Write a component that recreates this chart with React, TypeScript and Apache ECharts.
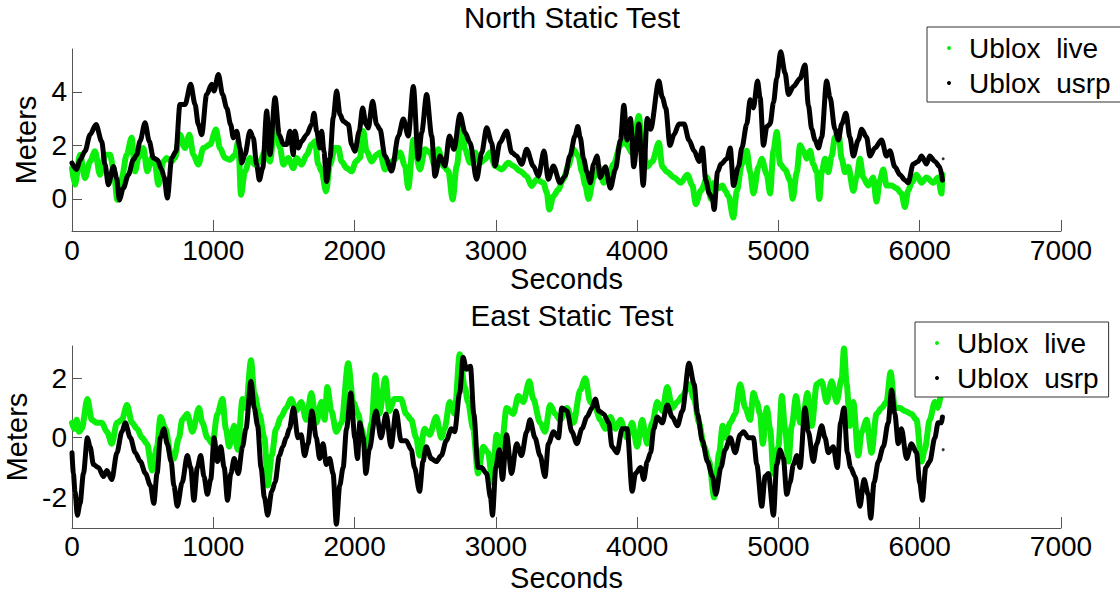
import React, { useEffect, useRef } from "react";
import * as echarts from "echarts";

// ---------- data (seconds, meters) ----------
const northLive: number[][] = [
  [0,1.15],[21,0.53],[57,1.65],[92,0.78],[128,1.4],[163,1.78],[198,0.9],[234,1.65],[269,1.65],[293,1.15],[321,-0.04],[352,0.78],[387,1.65],[422,2.28],[446,1.03],[470,1.53],[505,1.9],[533,1.03],[564,1.53],[588,1.28],[611,0.53],[647,1.4],[670,1.53],[706,1.4],[729,1.53],[764,2.4],[800,1.9],[831,2.4],[859,1.65],[894,1.28],[930,1.9],[977,2.03],[1019,2.59],[1047,1.9],[1083,1.53],[1118,1.46],[1154,1.65],[1177,2.15],[1196,0.15],[1224,1.03],[1260,1.53],[1295,1.28],[1331,1.4],[1366,1.78],[1401,1.4],[1437,2.9],[1472,1.9],[1496,1.28],[1531,1.53],[1566,1.15],[1590,1.53],[1625,1.28],[1661,1.65],[1696,2.03],[1720,2.15],[1743,1.28],[1767,1.03],[1798,0.28],[1826,1.28],[1861,1.9],[1885,1.9],[1908,1.4],[1944,1.15],[1979,1.03],[2010,1.4],[2038,1.53],[2062,2.53],[2085,1.78],[2121,1.4],[2156,1.65],[2180,1.73],[2215,1.1],[2251,1.35],[2286,1.48],[2322,1.73],[2357,1.23],[2380,0.41],[2416,2.2],[2463,1.1],[2498,1.85],[2534,1.73],[2569,1.23],[2593,1.85],[2628,1.23],[2664,1.04],[2694,-0.02],[2723,1.23],[2758,2.73],[2782,1.85],[2817,1.35],[2852,1.73],[2888,1.35],[2923,1.48],[2958,1.73],[2994,1.23],[3041,1.1],[3088,1.35],[3124,1.23],[3171,1.04],[3218,0.85],[3253,0.48],[3289,0.73],[3336,0.6],[3360,0.25],[3378,-0.4],[3407,0.1],[3442,0.35],[3477,0.73],[3513,1.23],[3548,1.85],[3584,1.6],[3610,1.0],[3633,0.5],[3656,0.0],[3692,0.8],[3728,1.2],[3763,0.6],[3799,0.9],[3834,1.3],[3882,2.0],[3906,2.5],[3929,2.0],[3965,1.7],[3988,2.6],[4012,3.1],[4036,2.0],[4071,1.2],[4107,1.4],[4154,2.1],[4178,1.2],[4213,1.0],[4261,0.8],[4308,0.6],[4356,0.9],[4391,0.5],[4415,-0.2],[4450,0.3],[4497,0.8],[4521,0.0],[4545,0.6],[4581,0.4],[4605,0.5],[4623,0.3],[4647,0.1],[4680,-0.7],[4706,0.3],[4741,1.3],[4776,1.8],[4800,1.0],[4823,0.2],[4859,1.2],[4882,1.5],[4918,0.9],[4941,0.2],[4965,1.8],[4988,2.5],[5012,1.3],[5047,1.1],[5082,0.7],[5101,0.0],[5130,1.0],[5153,2.0],[5177,1.8],[5200,1.5],[5224,1.8],[5247,1.3],[5271,1.0],[5290,0.0],[5306,1.0],[5330,1.5],[5353,1.0],[5377,1.6],[5400,2.3],[5424,2.5],[5448,1.5],[5471,1.0],[5495,1.2],[5530,0.3],[5553,0.8],[5577,1.5],[5600,0.8],[5636,0.5],[5671,0.8],[5694,-0.1],[5718,0.7],[5742,1.1],[5765,0.5],[5801,0.5],[5836,0.4],[5871,0.2],[5895,-0.3],[5918,0.3],[5942,0.6],[5977,0.9],[6013,0.6],[6048,0.8],[6095,0.6],[6130,0.8],[6154,0.2],[6161,0.9]
];

const northUsrp: number[][] = [
  [0,1.34],[33,1.1],[57,1.46],[92,1.78],[128,2.4],[170,2.78],[210,2.15],[234,1.28],[257,0.53],[293,1.21],[316,0.78],[335,-0.04],[363,0.4],[399,0.9],[434,1.46],[458,1.65],[481,2.15],[517,2.84],[547,2.15],[576,1.53],[604,1.46],[635,1.09],[651,0.84],[675,0.03],[706,1.53],[736,1.78],[764,3.53],[800,3.53],[840,4.28],[871,3.53],[894,2.78],[918,2.4],[953,3.9],[989,4.28],[1005,4.03],[1036,4.65],[1066,3.9],[1095,3.4],[1123,2.78],[1142,2.28],[1166,2.53],[1189,1.9],[1201,1.34],[1224,1.65],[1260,2.53],[1283,2.28],[1307,1.28],[1326,0.71],[1350,1.15],[1378,3.28],[1401,1.65],[1437,3.78],[1467,2.4],[1496,2.03],[1519,2.03],[1543,2.53],[1566,1.65],[1578,2.53],[1602,1.9],[1625,2.15],[1661,2.4],[1696,2.78],[1713,3.2],[1732,2.53],[1755,1.9],[1767,2.53],[1783,1.78],[1802,0.65],[1826,1.53],[1849,3.03],[1873,4.03],[1897,3.15],[1920,2.9],[1956,2.78],[1979,2.03],[2003,1.78],[2033,2.53],[2057,3.4],[2081,2.78],[2097,2.65],[2128,3.65],[2156,2.78],[2180,2.6],[2215,1.6],[2263,1.04],[2310,2.35],[2345,2.98],[2380,2.35],[2416,4.2],[2451,1.48],[2475,2.48],[2510,3.9],[2546,2.35],[2569,0.85],[2605,1.6],[2640,1.23],[2671,2.35],[2704,1.85],[2746,3.16],[2782,2.48],[2817,2.1],[2864,0.73],[2900,1.73],[2935,2.66],[2970,2.1],[2994,1.23],[3029,2.1],[3076,2.54],[3112,1.73],[3147,1.6],[3183,1.29],[3218,1.85],[3265,1.23],[3301,0.85],[3341,1.79],[3371,0.73],[3407,1.23],[3454,0.6],[3489,0.85],[3524,1.6],[3560,2.35],[3580,2.7],[3597,2.3],[3621,1.5],[3645,1.0],[3668,0.6],[3692,1.3],[3716,1.6],[3739,0.8],[3775,1.2],[3811,0.4],[3846,1.1],[3882,2.2],[3906,3.5],[3929,2.2],[3953,3.0],[3976,1.2],[4012,2.8],[4043,0.5],[4071,3.0],[4095,2.6],[4154,4.4],[4178,3.8],[4202,3.4],[4232,2.0],[4261,2.4],[4296,2.8],[4332,2.8],[4367,2.2],[4403,1.8],[4438,1.4],[4462,1.9],[4486,0.7],[4510,0.2],[4533,0.0],[4545,-0.4],[4569,1.0],[4593,1.3],[4635,1.5],[4659,1.9],[4682,0.5],[4717,1.2],[4741,1.9],[4776,2.8],[4800,3.7],[4823,3.4],[4852,4.4],[4870,3.8],[4894,2.0],[4918,2.7],[4941,2.8],[4965,3.6],[4988,4.5],[5016,5.5],[5047,4.7],[5071,3.9],[5106,4.2],[5153,4.5],[5188,5.0],[5212,3.5],[5236,2.6],[5259,2.2],[5283,1.9],[5306,2.3],[5341,4.4],[5365,3.8],[5400,2.6],[5424,2.2],[5448,2.8],[5478,3.2],[5506,2.3],[5530,1.6],[5565,2.2],[5589,2.6],[5624,2.3],[5648,1.6],[5683,1.9],[5730,2.2],[5765,1.6],[5789,1.8],[5824,1.2],[5860,0.9],[5895,0.7],[5918,0.6],[5954,1.3],[5989,1.4],[6013,1.6],[6048,1.3],[6071,1.6],[6107,1.4],[6142,1.2],[6161,0.7]
];
const northUsrpStray: number[][] = [[6166,1.5]];

const eastLive: number[][] = [
  [0,0.5],[15,0.3],[33,0.6],[50,0.2],[69,0.3],[109,1.3],[140,0.6],[176,0.5],[211,0.5],[247,0.2],[282,-0.2],[318,0.5],[353,0.6],[389,1.1],[425,0.5],[460,0.3],[496,0.0],[531,-0.2],[567,-1.1],[602,-0.3],[626,0.7],[662,0.3],[697,-0.5],[721,-0.7],[757,0.0],[780,0.6],[816,0.8],[852,0.2],[899,1.0],[923,0.5],[958,0.0],[994,-0.2],[1029,0.8],[1065,1.3],[1089,0.3],[1112,-0.3],[1148,0.4],[1172,-0.4],[1207,1.3],[1231,1.0],[1267,2.6],[1290,1.5],[1326,0.8],[1362,0.0],[1385,-1.6],[1414,-0.6],[1444,0.3],[1480,0.7],[1516,1.0],[1551,1.3],[1587,0.9],[1622,1.2],[1658,0.6],[1694,1.5],[1729,0.5],[1765,1.2],[1788,0.6],[1807,1.7],[1836,0.9],[1871,0.2],[1907,0.5],[1955,2.5],[1990,1.2],[2026,0.8],[2049,0.3],[2085,-0.5],[2121,0.5],[2147,2.1],[2175,0.8],[2218,2.0],[2246,0.9],[2282,1.3],[2329,1.3],[2365,0.8],[2401,0.6],[2436,0.0],[2460,-0.6],[2495,0.3],[2531,0.1],[2578,0.7],[2614,0.0],[2637,0.3],[2673,1.2],[2708,0.8],[2744,2.8],[2780,1.7],[2803,1.2],[2839,0.3],[2874,-1.2],[2910,-0.3],[2945,-0.5],[2976,-1.5],[3005,0.1],[3040,-0.3],[3076,1.0],[3123,0.8],[3159,1.4],[3194,1.2],[3237,1.9],[3265,1.3],[3313,0.5],[3348,0.2],[3384,1.1],[3420,0.8],[3455,0.6],[3503,1.0],[3550,0.5],[3597,1.6],[3633,2.0],[3668,1.2],[3704,1.0],[3739,0.6],[3775,0.3],[3811,0.7],[3846,0.3],[3882,0.6],[3929,0.0],[3965,0.5],[4000,-0.3],[4036,0.6],[4071,-0.2],[4107,0.5],[4142,1.2],[4178,0.9],[4213,1.7],[4249,1.0],[4285,1.2],[4320,1.4],[4367,1.8],[4403,1.3],[4438,0.5],[4474,-0.3],[4510,-0.8],[4545,-2.0],[4581,-0.5],[4605,0.4],[4623,0.0],[4659,0.5],[4694,0.8],[4729,1.8],[4765,1.0],[4800,0.6],[4823,1.5],[4847,1.2],[4870,0.8],[4889,-0.2],[4918,1.0],[4941,0.3],[4965,-1.2],[5000,-0.3],[5024,1.4],[5047,0.3],[5071,-0.8],[5094,0.4],[5125,1.4],[5153,0.5],[5177,0.8],[5205,1.5],[5236,0.4],[5271,1.8],[5306,1.9],[5341,1.2],[5377,1.9],[5412,1.2],[5448,2.0],[5464,3.0],[5483,1.8],[5506,0.4],[5530,1.2],[5565,-0.6],[5589,0.2],[5624,0.6],[5659,-0.5],[5694,0.8],[5730,1.0],[5765,1.2],[5794,2.2],[5824,1.0],[5860,1.0],[5895,0.9],[5942,0.8],[5977,0.6],[6013,-0.8],[6036,-0.4],[6071,0.6],[6107,1.2],[6130,1.0],[6147,1.4]
];

const eastUsrp: number[][] = [
  [0,-0.5],[10,-1.2],[21,-1.8],[38,-2.6],[57,-2.2],[81,-1.2],[109,0.0],[128,-0.3],[152,-0.9],[187,-1.0],[223,-1.3],[247,-1.1],[282,-1.4],[318,-0.5],[353,0.2],[377,0.5],[413,0.0],[448,-0.5],[484,-0.8],[520,-1.2],[555,-1.6],[579,-2.2],[602,-1.2],[626,0.0],[650,0.3],[674,-0.2],[702,-0.8],[721,-1.6],[745,-2.3],[780,-1.5],[816,-0.6],[840,-1.0],[863,-2.1],[887,-1.0],[911,-0.6],[934,-1.3],[958,-1.9],[982,-1.4],[1006,0.0],[1029,-0.8],[1053,-0.3],[1077,-1.0],[1101,-2.1],[1124,-1.2],[1148,-0.7],[1177,-1.2],[1207,-0.3],[1231,0.3],[1267,1.9],[1290,1.0],[1314,0.4],[1338,-1.0],[1362,-2.0],[1385,-2.6],[1414,-1.8],[1437,-1.5],[1468,-0.6],[1492,-0.3],[1516,0.0],[1539,0.3],[1568,1.0],[1599,0.0],[1622,0.1],[1646,-0.6],[1670,-0.2],[1698,0.9],[1729,0.0],[1753,-0.7],[1777,-0.2],[1800,-0.9],[1824,-0.7],[1848,-1.2],[1871,-2.9],[1895,-1.6],[1919,-1.0],[1943,0.3],[1973,1.5],[2002,0.0],[2021,-0.7],[2037,0.5],[2061,0.0],[2080,-1.2],[2104,-0.4],[2152,0.9],[2187,0.0],[2223,0.8],[2258,-0.3],[2294,0.9],[2329,-0.1],[2365,-0.1],[2401,-0.4],[2424,-1.0],[2460,-1.8],[2484,-0.8],[2507,-0.3],[2543,-0.7],[2578,-0.8],[2614,-0.6],[2649,-0.1],[2685,0.3],[2708,0.2],[2744,1.5],[2768,2.7],[2792,2.3],[2820,2.4],[2844,0.8],[2874,-1.0],[2898,-1.0],[2934,-1.2],[2962,-2.0],[2976,-2.6],[3000,-1.0],[3024,-0.4],[3047,-1.4],[3076,0.1],[3111,-1.2],[3147,-0.2],[3182,-0.6],[3218,0.2],[3242,0.6],[3277,0.0],[3313,-0.6],[3348,-1.3],[3372,-0.2],[3408,0.2],[3443,0.0],[3467,1.0],[3503,0.9],[3538,0.2],[3574,-0.2],[3609,0.3],[3645,0.7],[3680,1.0],[3704,1.3],[3728,0.9],[3763,0.8],[3799,0.5],[3822,-0.3],[3858,-0.5],[3894,0.3],[3929,0.3],[3965,-1.8],[3988,-1.2],[4024,-1.0],[4047,-1.4],[4071,-0.8],[4095,-0.5],[4118,0.3],[4142,0.7],[4178,0.5],[4213,1.1],[4249,0.7],[4285,0.4],[4320,0.9],[4367,2.5],[4403,1.8],[4427,0.8],[4462,-0.1],[4498,-0.8],[4533,-1.3],[4557,-1.9],[4593,-1.0],[4623,-0.4],[4659,0.0],[4694,-0.5],[4729,0.1],[4753,0.2],[4788,0.0],[4823,0.0],[4847,-0.9],[4882,-2.3],[4906,-1.3],[4929,-1.2],[4965,-2.6],[4988,-0.9],[5012,-0.4],[5035,-0.7],[5059,-1.9],[5082,-1.5],[5106,-0.9],[5130,-0.6],[5153,-1.0],[5188,1.0],[5212,0.2],[5247,-0.8],[5271,-0.2],[5306,0.4],[5330,0.0],[5353,-0.5],[5388,-0.3],[5417,-1.0],[5440,0.5],[5464,1.0],[5488,-0.5],[5511,-1.0],[5542,-1.3],[5577,-2.3],[5606,-1.4],[5636,-1.9],[5653,-2.7],[5677,-1.5],[5707,-0.8],[5742,-0.3],[5777,0.5],[5801,1.6],[5824,0.8],[5848,-0.2],[5871,0.3],[5907,-0.7],[5942,-0.2],[5977,-0.5],[6000,-1.5],[6019,-2.1],[6043,-1.0],[6071,-0.8],[6107,0.0],[6130,0.5],[6154,0.5],[6161,0.7]
];
const eastUsrpStray: number[][] = [[6166,-0.4]];

const xTicks = [0, 7000, 1000]; // min, max, interval (seconds)
const northYTicks = [0, 2, 4];
const eastYTicks = [-2, 0, 2];
const titles = ["North Static Test", "East Static Test"];
const seriesNames = ["Ublox  live", "Ublox  usrp"];

const FONT = "'Liberation Sans', Arial, Helvetica, sans-serif";
const GREEN = "#0af00a";
const BLACK = "#000000";
const AXIS = "#555555";

function xAxisFor(grid: number, nameGap: number, margin: number) {
  return {
    type: "value",
    gridIndex: grid,
    min: xTicks[0],
    max: xTicks[1],
    interval: xTicks[2],
    name: "Seconds",
    nameLocation: "middle",
    nameGap,
    nameTextStyle: { fontSize: 29, color: "#000", fontFamily: FONT, lineHeight: 29 },
    axisLine: { show: true, onZero: false, lineStyle: { color: AXIS, width: 1 } },
    axisTick: { show: true, inside: true, length: 11, lineStyle: { color: AXIS, width: 1 } },
    axisLabel: {
      fontSize: 28, color: "#000", fontFamily: FONT, margin, lineHeight: 28,
      formatter: (v: number) => String(v),
    },
    splitLine: { show: false },
  };
}

function yAxisFor(grid: number, min: number, max: number, ticks: number[], nameGap: number) {
  return {
    type: "value",
    gridIndex: grid,
    min,
    max,
    name: "Meters",
    nameLocation: "middle",
    nameGap,
    nameTextStyle: { fontSize: 29, color: "#000", fontFamily: FONT, lineHeight: 29 },
    axisLine: { show: true, onZero: false, lineStyle: { color: AXIS, width: 1 } },
    axisTick: { show: true, inside: true, length: 10, customValues: ticks, lineStyle: { color: AXIS, width: 1 } },
    axisLabel: {
      fontSize: 28, color: "#000", fontFamily: FONT, margin: 5, customValues: ticks,
      formatter: (v: number) => String(v),
    },
    splitLine: { show: false },
  };
}

function legendAt(left: number, top: number) {
  return {
    orient: "vertical",
    left,
    top,
    padding: [7, 10, 5, 20],
    itemGap: 7,
    itemWidth: 4,
    itemHeight: 4,
    icon: "circle",
    backgroundColor: "#ffffff",
    borderColor: "#333333",
    borderWidth: 1,
    borderRadius: 0,
    z: 10,
    data: seriesNames,
    selectedMode: false,
    textStyle: { fontSize: 28, color: "#000", fontFamily: FONT, lineHeight: 28, padding: [0, 0, 0, 13] },
  };
}

function lineSeries(name: string, data: number[][], grid: number, color: string, width: number) {
  return {
    type: "line",
    name,
    xAxisIndex: grid,
    yAxisIndex: grid,
    data,
    showSymbol: false,
    symbol: "none",
    silent: true,
    smooth: 0.3,
    smoothMonotone: "x",
    itemStyle: { color },
    lineStyle: { color, width, join: "round", cap: "round" },
  };
}

function strayPoints(name: string, data: number[][], grid: number) {
  return {
    type: "scatter",
    name,
    xAxisIndex: grid,
    yAxisIndex: grid,
    data,
    symbol: "circle",
    symbolSize: 3,
    silent: true,
    itemStyle: { color: BLACK },
  };
}

export default function App() {
  const ref = useRef<HTMLDivElement>(null);
  useEffect(() => {
    if (!ref.current) return;
    const chart = echarts.init(ref.current, null, { renderer: "svg" });
    const titleStyle = { fontSize: 29.5, fontWeight: "normal", color: "#000", fontFamily: FONT, lineHeight: 29 };
    chart.setOption({
      animation: false,
      backgroundColor: "#ffffff",
      title: [
        { text: titles[0], left: 567, top: -2, textAlign: "center", textStyle: titleStyle },
        { text: titles[1], left: 567, top: 296, textAlign: "center", textStyle: titleStyle },
      ],
      grid: [
        { left: 72, right: 59, top: 49, height: 182, containLabel: false, outerBoundsMode: "none" },
        { left: 72, right: 59, top: 346, height: 182, containLabel: false, outerBoundsMode: "none" },
      ],
      xAxis: [xAxisFor(0, 32, 5), xAxisFor(1, 35, 4)],
      yAxis: [
        yAxisFor(0, -1.2, 5.6, northYTicks, 25),
        yAxisFor(1, -3.03, 3.08, eastYTicks, 34),
      ],
      legend: [legendAt(927, 27), legendAt(915, 322)],
      series: [
        lineSeries(seriesNames[0], northLive, 0, GREEN, 6),
        lineSeries(seriesNames[1], northUsrp, 0, BLACK, 5),
        strayPoints(seriesNames[1], northUsrpStray, 0),
        lineSeries(seriesNames[0], eastLive, 1, GREEN, 6),
        lineSeries(seriesNames[1], eastUsrp, 1, BLACK, 5),
        strayPoints(seriesNames[1], eastUsrpStray, 1),
      ],
    });
    return () => chart.dispose();
  }, []);
  return (
    <div
      ref={ref}
      style={{ position: "fixed", left: 0, top: 0, width: 1120, height: 594, background: "#fff" }}
    />
  );
}
